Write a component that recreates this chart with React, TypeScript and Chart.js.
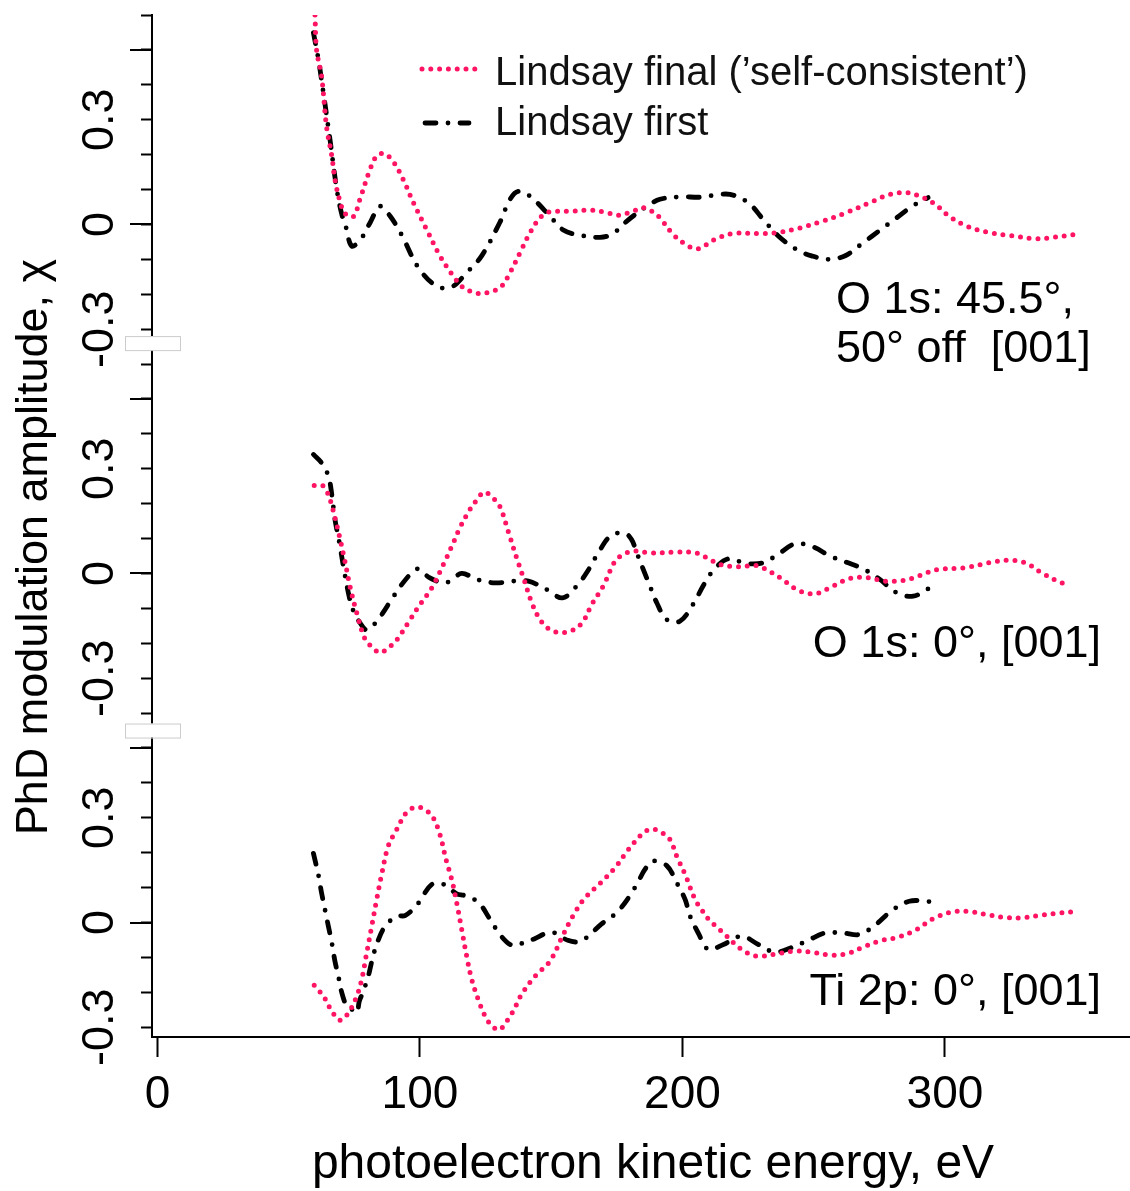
import { useEffect, useRef } from 'react';
import { Chart, registerables } from 'chart.js';

Chart.register(...registerables);

const FONT = '"Liberation Sans", Arial, Helvetica, sans-serif';
const PINK = '#ff1464';

// ---- axis definition ----
const xTicks = [0, 100, 200, 300];
const xMin = -2.1;
const xMax = 370.5;
const yMin = -1.328;
const yMax = 1.6;
const panelOffsets = [1, 0, -1];
const panelTickValues = [-0.3, 0, 0.3];
const panelTickLabels = ['-0.3', '0', '0.3'];
const majorTickValues = [-1, -0.5, 0, 0.5, 1, 1.5];
const axisBreaks = [0.66, -0.45];

const seriesNames = ["Lindsay final (\u2019self-consistent\u2019)", 'Lindsay first'];
const panelLabels = [['O 1s: 45.5\u00b0,', '50\u00b0 off  [001]'], ['O 1s: 0\u00b0, [001]'], ['Ti 2p: 0\u00b0, [001]']];

// ---- panel 1: O 1s 45.5deg, 50deg off [001] ----
const p1FinalE = [60, 60.6, 62.5, 64.4, 66.4, 67.6, 69.3, 71.4, 74.6, 77.1, 81, 83.5, 86.3, 89.8, 93.6, 97.5, 102.5, 107.6, 112.7, 116.5, 121, 124.1, 130.5, 134.3, 138.1, 141.9, 145.7, 148.9, 152.1, 158.4, 164.8, 171.1, 175.5, 181.3, 185.1, 188.3, 191.4, 196.5, 202.2, 206, 212.4, 219.4, 229.5, 235.9, 244.8, 252.4, 262.5, 272.7, 279, 285.4, 289.2, 295.5, 301.9, 308.3, 315.9, 324.8, 334.9, 341.3, 349];
const p1FinalChi = [0.6, 0.5, 0.425, 0.28, 0.196, 0.129, 0.072, 0.032, 0.022, 0.072, 0.158, 0.196, 0.203, 0.18, 0.129, 0.062, -0.014, -0.09, -0.148, -0.181, -0.196, -0.198, -0.181, -0.138, -0.081, -0.024, 0.019, 0.035, 0.038, 0.038, 0.041, 0.034, 0.026, 0.038, 0.048, 0.038, 0.019, -0.029, -0.062, -0.07, -0.043, -0.026, -0.026, -0.024, -0.01, 0.007, 0.034, 0.067, 0.086, 0.091, 0.084, 0.062, 0.022, -0.005, -0.022, -0.032, -0.041, -0.037, -0.029];
const p1FirstE = [59.4, 61.3, 63.2, 65.7, 68.3, 70.2, 71.8, 74, 77.4, 81, 84.8, 88.6, 93, 99.4, 106.4, 112.1, 117.8, 123.5, 130.5, 134.3, 137.5, 141.9, 148.9, 154.6, 161, 168.6, 173.6, 178.7, 186.4, 191.4, 199, 206.7, 211.7, 218.1, 225.1, 230.8, 236.5, 243.5, 249.2, 255.6, 262.2, 268.9, 275.2, 281.6, 287.5, 293.6];
const p1FirstChi = [0.549, 0.473, 0.377, 0.244, 0.1, 0.029, -0.008, -0.062, -0.043, 0.005, 0.052, 0.024, -0.03, -0.124, -0.177, -0.179, -0.138, -0.09, 0.007, 0.072, 0.095, 0.081, 0.029, -0.016, -0.031, -0.037, -0.026, 0.009, 0.052, 0.072, 0.079, 0.078, 0.083, 0.086, 0.062, 0.014, -0.033, -0.072, -0.09, -0.1, -0.089, -0.052, -0.017, 0.019, 0.052, 0.077];

// ---- panel 2: O 1s 0deg [001] ----
const p2FinalE = [59.7, 63.2, 65.7, 67.6, 69.3, 71.4, 73.3, 75.9, 79, 81.6, 84.8, 88.3, 91.1, 95.5, 100, 104.5, 109.5, 112.7, 115.2, 119, 121.6, 124.5, 127.7, 130.5, 133.6, 136.8, 139.4, 142.6, 145.7, 148.9, 152.1, 155.9, 159, 162.2, 165.4, 169.8, 174.3, 177.4, 181.3, 187.6, 197.8, 204.1, 207, 211, 214.3, 220.6, 227.6, 230.8, 237.1, 244.1, 250.5, 257.4, 263.8, 270.8, 277.1, 284.1, 290.5, 296.8, 307, 317.1, 323.5, 330.5, 336.8, 343.8, 347];
const p2FinalChi = [0.252, 0.25, 0.212, 0.16, 0.107, 0.035, -0.036, -0.113, -0.187, -0.21, -0.227, -0.211, -0.191, -0.141, -0.089, -0.041, 0.035, 0.088, 0.131, 0.183, 0.21, 0.233, 0.217, 0.191, 0.121, 0.045, -0.012, -0.084, -0.132, -0.158, -0.168, -0.168, -0.159, -0.137, -0.089, -0.036, 0.035, 0.054, 0.064, 0.059, 0.061, 0.061, 0.054, 0.038, 0.026, 0.019, 0.023, 0.016, -0.012, -0.048, -0.058, -0.036, -0.014, -0.012, -0.022, -0.02, -0.006, 0.011, 0.016, 0.031, 0.038, 0.031, 0.002, -0.025, -0.033];
const p2FirstE = [59.4, 62.5, 65.1, 66.4, 67.6, 69.3, 70.8, 72.7, 74.4, 77.1, 79.9, 84.5, 89.2, 93, 97.5, 99.4, 103.6, 108.9, 111.4, 115.9, 121.6, 128.6, 135.5, 141.3, 148.3, 154.3, 159.7, 164.4, 167.9, 172.8, 178.1, 180.6, 182.6, 185.1, 187.6, 190.2, 194, 199, 204.4, 207.9, 212, 217.5, 224.1, 230.8, 236.8, 242.9, 249.8, 256.2, 262.5, 268.9, 275.2, 281.6, 287.9, 294.3];
const p2FirstChi = [0.341, 0.317, 0.279, 0.226, 0.155, 0.088, 0.021, -0.055, -0.103, -0.141, -0.162, -0.127, -0.074, -0.032, 0.007, 0.013, -0.012, -0.027, -0.022, 0, -0.017, -0.027, -0.022, -0.022, -0.046, -0.07, -0.036, 0.013, 0.059, 0.109, 0.115, 0.097, 0.059, 0.011, -0.036, -0.084, -0.132, -0.137, -0.084, -0.035, 0.011, 0.042, 0.029, 0.031, 0.057, 0.085, 0.076, 0.05, 0.032, 0.013, -0.017, -0.055, -0.065, -0.041];

// ---- panel 3: Ti 2p 0deg [001] ----
const p3FinalE = [59.7, 63.2, 66.4, 69.5, 72.7, 75.9, 77.8, 79.7, 81.6, 83.5, 85.4, 87.9, 91.1, 94.7, 98.1, 101.3, 104.8, 107.6, 109.9, 112.1, 114, 115.9, 117.8, 119.7, 122.2, 124.8, 127.3, 130.2, 133, 135.5, 138.7, 143.8, 149.5, 154.6, 158.2, 162.6, 168.6, 174.3, 179.4, 185.1, 188.3, 191.7, 195.2, 197.8, 201, 204.8, 207.3, 209.5, 212.8, 216.2, 219.4, 222.5, 226, 229.3, 235.9, 242.9, 249.2, 255.9, 262.5, 268.9, 275.9, 282.2, 289.2, 295.5, 302.6, 308.9, 315.6, 322.2, 329, 335.5, 341.9, 348.9];
const p3FinalChi = [-0.18, -0.211, -0.254, -0.28, -0.259, -0.211, -0.163, -0.087, -0.011, 0.066, 0.138, 0.219, 0.266, 0.314, 0.33, 0.326, 0.303, 0.252, 0.181, 0.123, 0.056, -0.02, -0.097, -0.163, -0.221, -0.268, -0.295, -0.307, -0.283, -0.254, -0.206, -0.154, -0.111, -0.034, 0.018, 0.068, 0.112, 0.157, 0.209, 0.257, 0.268, 0.259, 0.238, 0.19, 0.138, 0.066, 0.037, 0.013, -0.011, -0.034, -0.058, -0.077, -0.092, -0.097, -0.09, -0.082, -0.085, -0.093, -0.09, -0.07, -0.051, -0.042, -0.02, 0.011, 0.03, 0.032, 0.023, 0.015, 0.013, 0.02, 0.026, 0.031];
const p3FirstE = [59.4, 61.3, 62.5, 63.8, 65.1, 66.4, 67.6, 68.9, 70.2, 72.1, 74, 75.9, 76.9, 78.2, 80.3, 81.8, 83.7, 86.7, 91.1, 94.3, 98.7, 104.5, 109.1, 114, 117.1, 122.2, 126.7, 130.7, 134.9, 138.7, 143.5, 148.3, 151.4, 156.3, 161, 164.1, 169.2, 174.9, 180, 183.2, 185.7, 188.6, 194, 197.8, 201, 202.9, 206, 209.8, 215.6, 222.5, 228.9, 235.2, 242.2, 247.9, 254.3, 261, 267.6, 273.6, 279.7, 286.4, 293, 294.9];
const p3FirstChi = [0.198, 0.136, 0.085, 0.037, -0.011, -0.058, -0.111, -0.154, -0.201, -0.24, -0.249, -0.259, -0.225, -0.201, -0.154, -0.106, -0.058, -0.011, 0.018, 0.02, 0.049, 0.109, 0.109, 0.082, 0.077, 0.058, 0.009, -0.037, -0.065, -0.06, -0.047, -0.03, -0.03, -0.051, -0.055, -0.039, -0.004, 0.028, 0.077, 0.118, 0.152, 0.176, 0.163, 0.114, 0.066, 0.018, -0.03, -0.077, -0.063, -0.039, -0.063, -0.085, -0.07, -0.051, -0.03, -0.03, -0.034, -0.006, 0.034, 0.061, 0.061, 0.058];

const finalSeries = [
  [p1FinalE, p1FinalChi],
  [p2FinalE, p2FinalChi],
  [p3FinalE, p3FinalChi],
];
const firstSeries = [
  [p1FirstE, p1FirstChi],
  [p2FirstE, p2FirstChi],
  [p3FirstE, p3FirstChi],
];

const finalStyle = { color: PINK, width: 5, dash: [0, 8.8] };
const firstStyle = { color: '#000000', width: 4.8, dash: [11, 12, 0, 12] };

function toPoints(E: number[], chi: number[], off: number) {
  return E.map((e, i) => ({ x: e, y: chi[i] + off }));
}

const decorPlugin = {
  id: 'decor',
  afterDraw(chart: any) {
    const { ctx, chartArea, scales } = chart;
    const ys = scales.y;
    const left = chartArea.left;
    ctx.save();
    // long (major) y ticks
    ctx.strokeStyle = '#000';
    ctx.lineWidth = 2;
    ctx.lineCap = 'butt';
    majorTickValues.forEach((v) => {
      const py = Math.round(ys.getPixelForValue(v));
      ctx.beginPath();
      ctx.moveTo(left - 22, py);
      ctx.lineTo(left, py);
      ctx.stroke();
    });
    // rotated y tick labels per panel
    ctx.fillStyle = '#000';
    ctx.font = `45px ${FONT}`;
    ctx.textAlign = 'center';
    ctx.textBaseline = 'alphabetic';
    panelOffsets.forEach((off) => {
      panelTickValues.forEach((v, i) => {
        const py = ys.getPixelForValue(v + off);
        ctx.save();
        ctx.translate(113, py);
        ctx.rotate(-Math.PI / 2);
        ctx.fillText(panelTickLabels[i], 0, 0);
        ctx.restore();
      });
    });
    // y title
    ctx.save();
    ctx.font = `45px ${FONT}`;
    ctx.translate(47, 547);
    ctx.rotate(-Math.PI / 2);
    ctx.fillText('PhD modulation amplitude, \u03c7', 0, 0);
    ctx.restore();
    // x title
    ctx.font = `48px ${FONT}`;
    ctx.textAlign = 'center';
    ctx.fillText('photoelectron kinetic energy, eV', 653, 1178);
    // axis breaks
    axisBreaks.forEach((v) => {
      const py = ys.getPixelForValue(v);
      ctx.fillStyle = '#ffffff';
      ctx.fillRect(left - 27, py - 7, 55, 14);
      ctx.strokeStyle = '#cccccc';
      ctx.lineWidth = 1;
      ctx.strokeRect(left - 27 + 0.5, py - 7 + 0.5, 55, 14);
    });
    // panel labels
    ctx.fillStyle = '#000';
    ctx.font = `45px ${FONT}`;
    ctx.textAlign = 'left';
    ctx.fillText(panelLabels[0][0], 836, 313);
    ctx.fillText(panelLabels[0][1], 836, 362);
    ctx.textAlign = 'right';
    ctx.fillText(panelLabels[1][0], 1101, 657);
    ctx.fillText(panelLabels[2][0], 1101, 1005);
    // legend
    const items = [
      { style: finalStyle, y: 69, x0: 422, x1: 478, ty: 85 },
      { style: firstStyle, y: 123, x0: 425, x1: 469, ty: 135 },
    ];
    items.forEach((it, i) => {
      ctx.save();
      ctx.strokeStyle = it.style.color;
      ctx.lineWidth = it.style.width;
      ctx.lineCap = 'round';
      ctx.setLineDash(it.style.dash);
      ctx.beginPath();
      ctx.moveTo(it.x0, it.y);
      ctx.lineTo(it.x1, it.y);
      ctx.stroke();
      ctx.restore();
      ctx.fillStyle = '#111';
      ctx.font = `40px ${FONT}`;
      ctx.textAlign = 'left';
      ctx.fillText(seriesNames[i], 495, it.ty);
    });
    ctx.restore();
  },
};

export default function App() {
  const ref = useRef<HTMLCanvasElement>(null);
  useEffect(() => {
    const datasets: any[] = [];
    finalSeries.forEach(([E, chi], p) => {
      datasets.push({
        label: seriesNames[0],
        data: toPoints(E, chi, panelOffsets[p]),
        borderColor: finalStyle.color,
        borderWidth: finalStyle.width,
        borderDash: finalStyle.dash,
        borderCapStyle: 'round',
        borderJoinStyle: 'round',
        pointRadius: 0,
        tension: 0.35,
        fill: false,
      });
    });
    firstSeries.forEach(([E, chi], p) => {
      datasets.push({
        label: seriesNames[1],
        data: toPoints(E, chi, panelOffsets[p]),
        borderColor: firstStyle.color,
        borderWidth: firstStyle.width,
        borderDash: firstStyle.dash,
        borderCapStyle: 'round',
        borderJoinStyle: 'round',
        pointRadius: 0,
        tension: 0.35,
        fill: false,
      });
    });
    const chart = new Chart(ref.current as HTMLCanvasElement, {
      type: 'line',
      data: { datasets },
      options: {
        animation: false,
        responsive: false,
        devicePixelRatio: 1,
        layout: { padding: { top: 15, left: 0, right: 0, bottom: 0 } },
        plugins: { legend: { display: false }, title: { display: false }, tooltip: { enabled: false } },
        scales: {
          x: {
            type: 'linear',
            min: xMin,
            max: xMax,
            afterBuildTicks: (s: any) => {
              s.ticks = xTicks.map((v) => ({ value: v }));
            },
            afterFit: (s: any) => {
              s.height = 154;
            },
            border: { display: true, color: '#000', width: 2 },
            grid: { display: true, drawOnChartArea: false, drawTicks: true, tickLength: 20, tickWidth: 2, tickColor: '#000' },
            ticks: { color: '#000', font: { family: FONT, size: 46 }, padding: 11, maxRotation: 0, autoSkip: false },
          },
          y: {
            type: 'linear',
            min: yMin,
            max: yMax,
            afterFit: (s: any) => {
              s.width = 152;
            },
            border: { display: true, color: '#000', width: 2 },
            grid: { display: true, drawOnChartArea: false, drawTicks: true, tickLength: 11, tickWidth: 2, tickColor: '#000' },
            ticks: { display: false, stepSize: 0.1, includeBounds: false },
          },
        },
      } as any,
      plugins: [decorPlugin],
    });
    return () => chart.destroy();
  }, []);
  return (
    <div style={{ position: 'fixed', left: 0, top: 0, width: 1130, height: 1191, background: '#fff' }}>
      <canvas ref={ref} width={1130} height={1191} style={{ display: 'block', width: 1130, height: 1191 }} />
    </div>
  );
}
